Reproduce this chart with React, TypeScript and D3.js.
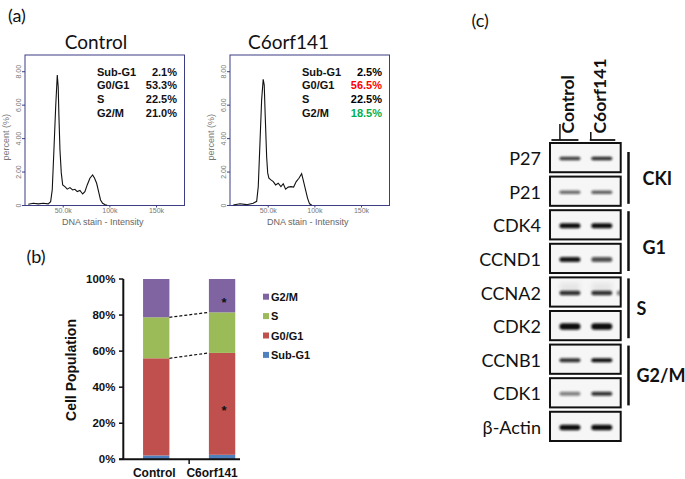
import React from 'react';
import * as d3 from 'd3';

// ---------- Panel (a): flow cytometry histograms ----------
const histXTicks = [50, 100, 150];
const histXTickLabels = ['50.0k', '100k', '150k'];
const histYTicks = [0, 2, 4, 6, 8];
const histYTickLabels = ['0', '2.00', '4.00', '6.00', '8.00'];

const controlDnaK = [12.5, 17.9, 23.2, 28.6, 33.9, 36.5, 38.2, 40, 41.9, 43.6, 44.6, 45.4, 46.5, 47.9, 49.4, 51.8, 54.3, 57.2, 60.1, 62.5, 65, 67.9, 70.8, 73.2, 75.7, 78.6, 81.5, 83.6, 85.8, 87.9, 90, 92.2, 95, 97.1];
const controlPercent = [0.07, 0.13, 0.1, 0.13, 0.1, 0.23, 0.93, 3.3, 5.9, 7.8, 7.1, 5.3, 3.3, 1.95, 1.23, 1.13, 0.98, 1.07, 0.93, 0.97, 0.83, 0.9, 0.69, 0.83, 1.23, 1.63, 1.83, 1.63, 1.33, 0.83, 0.33, 0.13, 0.05, 0.02];

const c6DnaK = [12.5, 19.7, 26.9, 33.9, 37.6, 39.3, 41.1, 42.9, 44.6, 45.7, 46.8, 48.3, 49.4, 50.7, 52.9, 55.4, 57.9, 60.7, 63.6, 66.1, 68.6, 71.4, 74.3, 77.2, 80, 82.9, 85.8, 87.9, 90, 92.2, 94.3, 96.5];
const c6Percent = [0.03, 0.1, 0.05, 0.13, 0.25, 1.13, 3.7, 6.3, 7.55, 7.2, 5.3, 2.9, 1.95, 1.63, 1.53, 1.43, 1.23, 1.33, 1.13, 1.3, 0.98, 1.1, 1.13, 1.1, 1.43, 1.63, 1.9, 1.43, 0.93, 0.43, 0.1, 0.03];

// ---------- Panel (b): stacked bars ----------
const phases = ['Sub-G1', 'G0/G1', 'S', 'G2/M'];
const samples = ['Control', 'C6orf141'];
const controlPct = [2.1, 53.3, 22.5, 21.0];
const c6Pct = [2.5, 56.5, 22.5, 18.5];
const phaseColors = ['#4f81bd', '#c0504d', '#9bbb59', '#8064a2'];
const c6Significant = [false, true, false, true];
const yTicksB = [0, 20, 40, 60, 80, 100];
const c6StatColors = ['#000000', '#ff0000', '#000000', '#00b050'];

// ---------- Panel (c): western blot ----------
const blotProteins = ['P27', 'P21', 'CDK4', 'CCND1', 'CCNA2', 'CDK2', 'CCNB1', 'CDK1', 'β-Actin'];
const blotControl = [0.8, 0.6, 1.0, 0.95, 0.85, 1.0, 0.85, 0.5, 1.0];
const blotC6 = [0.88, 0.65, 1.0, 0.7, 0.85, 1.0, 1.0, 0.85, 1.0];
const blotThickness = [3.5, 3.5, 5, 5, 4.5, 6.5, 4, 4, 5.5];
const groupNames = ['CKI', 'G1', 'S', 'G2/M'];
const groupFirstRow = ['P27', 'CDK4', 'CCNA2', 'CCNB1'];
const groupLastRow = ['P21', 'CCND1', 'CDK2', 'CDK1'];

const FONT = "'Liberation Sans', Arial, sans-serif";
const CAL = "Lato, 'Liberation Sans', sans-serif";

function Histogram({ left, dnaK, pct, title, titleX, stats, colors }: any) {
  const right = left + 159.5;
  const top = 55;
  const bottom = 205.5;
  const x = d3.scaleLinear().domain([9, 180]).range([left, right]);
  const y = d3.scaleLinear().domain([0, 9]).range([bottom, top]);
  const line = d3.line<number>().x((_, i) => x(dnaK[i])).y((d) => y(d));
  const frame = '#3d3d85';
  return (
    <g>
      <text x={left + titleX} y={49} fontFamily={CAL} fontSize={19} textAnchor="middle" fill="#111">{title}</text>
      <rect x={left} y={top} width={right - left} height={bottom - top} fill="#fff" stroke={frame} strokeWidth={1} />
      {histYTicks.map((t, i) => (
        <g key={t}>
          <line x1={left - 3} x2={left} y1={y(t)} y2={y(t)} stroke={frame} />
          <text transform={`translate(${left - 4},${y(t)}) rotate(-90)`} fontFamily={FONT} fontSize={7} fill="#777" textAnchor="middle">{histYTickLabels[i]}</text>
        </g>
      ))}
      {histXTicks.map((t, i) => (
        <g key={t}>
          <line x1={x(t)} x2={x(t)} y1={bottom} y2={bottom + 2} stroke={frame} />
          <text x={x(t)} y={bottom + 7.5} fontFamily={FONT} fontSize={7} fill="#777" textAnchor="middle">{histXTickLabels[i]}</text>
        </g>
      ))}
      <text x={(left + right) / 2 - 2} y={bottom + 19} fontFamily={FONT} fontSize={9} fill="#666" textAnchor="middle">DNA stain - Intensity</text>
      <text transform={`translate(${left - 16.5},${(top + bottom) / 2 + 7}) rotate(-90)`} fontFamily={FONT} fontSize={9} fill="#777" textAnchor="middle">percent (%)</text>
      <path d={line(pct) || ''} fill="none" stroke="#111" strokeWidth={1.1} />
      {phases.map((p, i) => (
        <g key={p}>
          <text x={left + 72} y={75.7 + i * 13.6} fontFamily={FONT} fontSize={11} fontWeight="bold" fill="#111">{p}</text>
          <text x={left + 152} y={75.7 + i * 13.6} fontFamily={FONT} fontSize={11} fontWeight="bold" fill={colors[i]} textAnchor="end">{stats[i].toFixed(1)}%</text>
        </g>
      ))}
    </g>
  );
}

function StackedBars() {
  const x = d3.scaleBand<string>().domain(samples).range([123.3, 255]).paddingInner(0.6).paddingOuter(0.3);
  const y = d3.scaleLinear().domain([0, 1]).range([459.3, 279]);
  const rows = samples.map((s, si) => {
    const vals = si === 0 ? controlPct : c6Pct;
    const o: any = { sample: s };
    phases.forEach((p, i) => (o[p] = vals[i]));
    return o;
  });
  const series = d3.stack().keys(phases).offset(d3.stackOffsetExpand)(rows);
  const bw = x.bandwidth();
  const xs0 = x(samples[0])!;
  const xs1 = x(samples[1])!;
  const labelShift = [-2, -10];
  return (
    <g>
      <text x={26.5} y={263} fontFamily={CAL} fontSize={18} fill="#111">(b)</text>
      {series.map((ser, pi) => (
        <g key={ser.key}>
          {ser.map((d, si) => (
            <rect key={si} x={x(samples[si])} y={y(d[1])} width={bw} height={y(d[0]) - y(d[1])} fill={phaseColors[pi]} />
          ))}
        </g>
      ))}
      {[1, 2].map((pi) => (
        <line key={pi} x1={xs0 + bw} x2={xs1} y1={y(series[pi][0][1])} y2={y(series[pi][1][1])} stroke="#111" strokeWidth={1.2} strokeDasharray="3,2" />
      ))}
      {series.map((ser, pi) =>
        c6Significant[pi] ? (
          <text key={pi} x={xs1 + bw / 2 + 2} y={(y(ser[1][0]) + y(ser[1][1])) / 2 + 11} fontFamily={FONT} fontSize={13} fontWeight="bold" textAnchor="middle" fill="#111">*</text>
        ) : null
      )}
      <line x1={123.3} x2={123.3} y1={279} y2={459.3} stroke="#111" strokeWidth={2} />
      <line x1={119} x2={240} y1={459.3} y2={459.3} stroke="#111" strokeWidth={2} />
      <line x1={xs0 + bw / 2 + x.step() / 2} x2={xs0 + bw / 2 + x.step() / 2} y1={459.3} y2={464} stroke="#111" strokeWidth={1.5} />
      {yTicksB.map((t) => (
        <g key={t}>
          <line x1={119} x2={123.3} y1={y(t / 100)} y2={y(t / 100)} stroke="#111" strokeWidth={1.5} />
          <text x={115.5} y={y(t / 100) + 4} fontFamily={FONT} fontSize={11.5} fontWeight="bold" textAnchor="end" fill="#111">{t}%</text>
        </g>
      ))}
      {samples.map((s, i) => (
        <text key={s} x={x(s)! + bw / 2 + labelShift[i]} y={477} fontFamily={FONT} fontSize={12} fontWeight="bold" textAnchor="middle" fill="#111">{s}</text>
      ))}
      <text transform="translate(76,370) rotate(-90)" fontFamily={FONT} fontSize={14} fontWeight="bold" textAnchor="middle" fill="#111">Cell Population</text>
      {phases.slice().reverse().map((p, i) => {
        const pi = phases.length - 1 - i;
        const cy = 296.7 + i * 19.4;
        return (
          <g key={p}>
            <rect x={263} y={cy - 3} width={6} height={6} fill={phaseColors[pi]} />
            <text x={271} y={cy + 4} fontFamily={FONT} fontSize={11} fontWeight="bold" fill="#111">{p}</text>
          </g>
        );
      })}
    </g>
  );
}

function Blot() {
  const row = d3.scaleBand<string>().domain(blotProteins).range([143, 441]).paddingInner(0.13);
  const lane = d3.scaleBand<string>().domain(samples).range([554, 617.7]);
  const boxL = 550;
  const boxR = 620.7;
  const rh = row.bandwidth();
  const laneC = (s: string) => lane(s)! + lane.bandwidth() / 2;
  return (
    <g>
      <defs>
        <filter id="blur" x="-30%" y="-100%" width="160%" height="300%">
          <feGaussianBlur stdDeviation="0.9" />
        </filter>
        <filter id="blur2" x="-50%" y="-100%" width="200%" height="300%">
          <feGaussianBlur stdDeviation="2.5" />
        </filter>
        {blotProteins.map((p, i) => (
          <clipPath id={`clip${i}`} key={p}>
            <rect x={boxL} y={row(p)} width={boxR - boxL} height={rh} />
          </clipPath>
        ))}
      </defs>
      <text x={471.5} y={27} fontFamily={CAL} fontSize={18} fill="#111">(c)</text>
      {samples.map((s, i) => (
        <g key={s}>
          <text transform={`translate(${laneC(s) + 4.5},133.5) rotate(-90)`} fontFamily={CAL} fontSize={17.5} fontWeight="bold" fill="#111">{s}</text>
          <line x1={laneC(s) - (i === 0 ? 18.5 : 12)} x2={laneC(s) + (i === 0 ? 8.5 : 13.5)} y1={140} y2={140} stroke="#111" strokeWidth={1.8} />
          <line x1={laneC(s) - (i === 0 ? 10 : 11)} x2={laneC(s) - (i === 0 ? 10 : 11)} y1={i === 0 ? 124 : 132} y2={140} stroke="#111" strokeWidth={1.5} />
        </g>
      ))}
      {blotProteins.map((p, i) => {
        const ty = row(p)!;
        const cy = ty + rh / 2 + 1;
        const th = blotThickness[i];
        return (
          <g key={p}>
            <rect x={boxL} y={ty} width={boxR - boxL} height={rh} fill="#f6f6f6" />
            <g clipPath={`url(#clip${i})`}>
              {p === 'CCNA2' && (
                <g>
                  <rect x={laneC(samples[0]) - 10} y={cy - 10} width={20} height={8} fill="#aaa" opacity={0.22} filter="url(#blur2)" />
                  <rect x={laneC(samples[1]) - 10} y={cy - 10} width={20} height={8} fill="#aaa" opacity={0.22} filter="url(#blur2)" />
                  <rect x={boxR - 4} y={cy - 2.5} width={8} height={5} rx={2} fill="#333" opacity={0.55} filter="url(#blur)" />
                </g>
              )}
              {samples.map((s, si) => {
                const v = si === 0 ? blotControl[i] : blotC6[i];
                return (
                  <rect key={s} x={laneC(s) - 10.5} y={cy - th / 2} width={21} height={th} rx={th / 2} fill="#111" opacity={v} filter="url(#blur)" />
                );
              })}
            </g>
            <rect x={boxL} y={ty} width={boxR - boxL} height={rh} fill="none" stroke="#111" strokeWidth={2} />
            <text x={541} y={ty + rh / 2 + 7.5} fontFamily={CAL} fontSize={18} textAnchor="end" fill="#111">{p}</text>
          </g>
        );
      })}
      {groupNames.map((g, gi) => {
        const y1 = row(groupFirstRow[gi])! + (gi === 0 ? 9 : 1);
        const y2 = row(groupLastRow[gi])! + rh - 2;
        return (
          <g key={g}>
            <line x1={628.5} x2={628.5} y1={y1} y2={y2} stroke="#111" strokeWidth={2.5} />
            <text x={gi < 2 ? 642.5 : 636.5} y={(y1 + y2) / 2 + 7 + (gi === 1 ? 6 : 0)} fontFamily={CAL} fontSize={18} fontWeight="bold" fill="#111">{g}</text>
          </g>
        );
      })}
    </g>
  );
}

export default function App() {
  return (
    <svg width={685} height={479} style={{ position: 'absolute', left: 0, top: 0, background: '#fff' }}>
      <rect width={685} height={479} fill="#fff" />
      <text x={8} y={22} fontFamily={CAL} fontSize={18} fill="#111">(a)</text>
      <Histogram left={25} dnaK={controlDnaK} pct={controlPercent} title="Control" titleX={71} stats={controlPct} colors={['#111', '#111', '#111', '#111']} />
      <Histogram left={230} dnaK={c6DnaK} pct={c6Percent} title="C6orf141" titleX={58.5} stats={c6Pct} colors={c6StatColors} />
      <StackedBars />
      <Blot />
    </svg>
  );
}
